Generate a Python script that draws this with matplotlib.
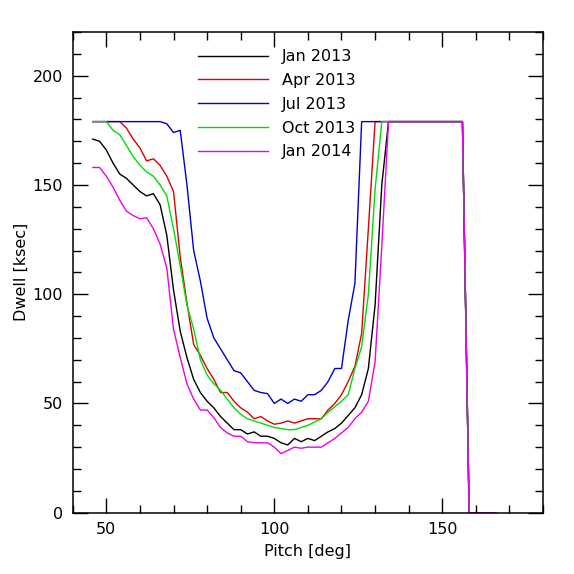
import matplotlib
matplotlib.use("Agg")
import matplotlib.pyplot as plt
import numpy as np
from matplotlib.ticker import MultipleLocator

# pitch grid (deg), 2 degree steps
pitch = np.arange(46, 168, 2)

# dwell (ksec) from 46 to 134 deg, one value per grid point
jan13 = [171, 170, 166, 160, 155, 153, 150, 147, 145, 146, 141, 127, 102, 83, 71,
         61, 55, 51, 48, 44, 41, 38, 38, 36, 37, 35, 35, 34, 32, 31, 34, 32.5, 34, 33, 35,
         37, 38.5, 41, 44.5, 48, 54, 66, 95, 150, 179]
apr13 = [179, 179, 179, 179, 179, 176, 171, 167, 161, 162, 159, 154, 147, 117, 96,
         77, 72, 66, 61, 55, 55, 51, 48, 46, 43, 44, 42, 40.5, 41, 42, 41, 42, 43, 43, 43,
         47, 50, 54, 60, 67, 82, 130, 179, 179, 179]
jul13 = [179, 179, 179, 179, 179, 179, 179, 179, 179, 179, 179, 178, 174, 175, 150,
         120, 106, 89, 80, 75, 70, 65, 64, 60, 56, 55, 54.5, 50, 52, 50, 52, 51, 54, 54, 56,
         60, 66, 66, 88, 105, 179, 179, 179, 179, 179]
oct13 = [179, 179, 179, 175, 173, 168, 163, 159, 156, 154, 150, 145, 130, 113, 95,
         84, 70, 63, 59, 56, 52, 48, 45, 43, 42, 41, 40, 39, 38.5, 38, 38, 39, 40, 41.5, 43,
         46, 48.5, 51, 54, 66, 76, 100, 148, 179, 179]
jan14 = [158, 158, 154, 149, 143, 138, 136, 134.5, 135, 130, 123, 112, 84, 71, 59,
         52, 47, 47, 43.5, 39, 36.5, 35, 35, 32.5, 32, 32, 32, 30, 27, 28.5, 30, 29.5, 30, 30, 30,
         32, 34, 36.5, 39, 43, 46, 51, 69, 122, 179]

# shared tail from 136 to 166 deg
tail = [179, 179, 179, 179, 179, 179, 179, 179, 179, 179, 179, 0, 0, 0, 0, 0]

labels = ["Jan 2013", "Apr 2013", "Jul 2013", "Oct 2013", "Jan 2014"]
series = [jan13, apr13, jul13, oct13, jan14]
colors = ["black", "#dd0000", "#0000cc", "#00dd00", "#ee00ee"]

plt.rcParams["font.family"] = "DejaVu Sans"
fig = plt.figure(figsize=(5.74, 5.74), dpi=100)
ax = fig.add_axes([0.1267, 0.1068, 0.8194, 0.8374])

for vals, lab, c in zip(series, labels, colors):
    ax.plot(pitch, list(vals) + tail, color=c, lw=1.0, label=lab)

ax.set_xlim(40, 180)
ax.set_ylim(0, 220)
ax.xaxis.set_major_locator(MultipleLocator(50))
ax.xaxis.set_minor_locator(MultipleLocator(10))
ax.yaxis.set_major_locator(MultipleLocator(50))
ax.yaxis.set_minor_locator(MultipleLocator(10))
ax.tick_params(which="both", direction="in", top=True, right=True,
               labelsize=11.5, width=1.0, pad=7)
ax.tick_params(which="major", length=11)
ax.tick_params(which="minor", length=6)
for s in ax.spines.values():
    s.set_linewidth(1.1)

ax.set_xlabel("Pitch [deg]", fontsize=11.5, labelpad=5)
ax.set_ylabel("Dwell [ksec]", fontsize=11.5, labelpad=3)

ax.legend(loc="upper left", bbox_to_anchor=(0.235, 0.994), frameon=False,
          fontsize=11.5, handlelength=4.4, handletextpad=0.9, labelspacing=0.55)

fig.savefig("out.png", dpi=100)
